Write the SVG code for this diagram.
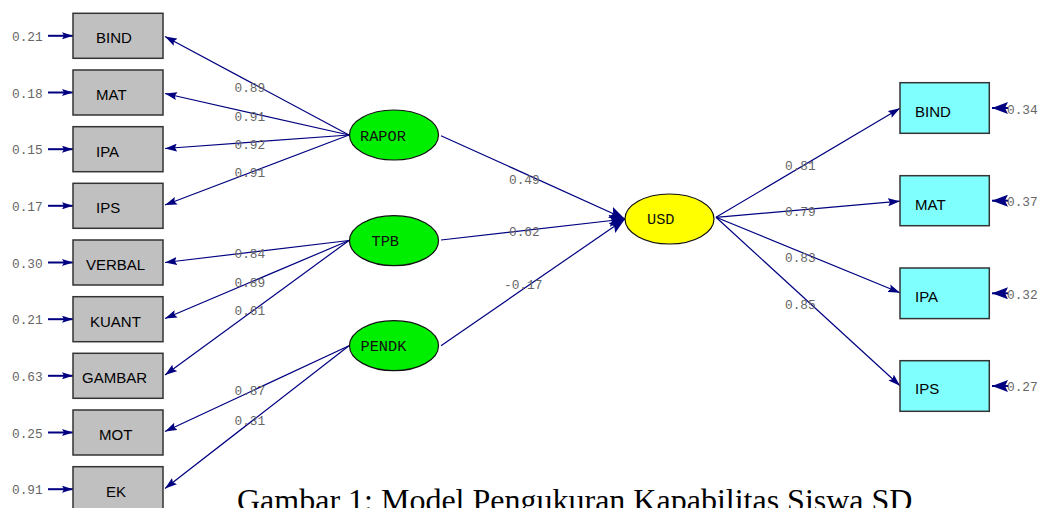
<svg xmlns="http://www.w3.org/2000/svg" width="1040" height="508" viewBox="0 0 1040 508">
<style>
.obs{fill:#c0c0c0;stroke:#333;stroke-width:1.5}
.obs2{fill:#80ffff;stroke:#333;stroke-width:1.5}
.lat{fill:#00ee00;stroke:#111;stroke-width:1.2}
.usd{fill:#ffff00;stroke:#111;stroke-width:1.2}
.bt{font-family:"Liberation Sans",Arial,sans-serif;font-size:15px;fill:#000}
.lt{font-family:"Liberation Mono","Courier New",monospace;font-size:15.3px;fill:#111}
.num{font-family:"Liberation Mono","Courier New",monospace;font-size:12.8px;fill:#666}
.ln{stroke:#000080;stroke-width:1.2;fill:none}
.err{stroke:#000080;stroke-width:2;fill:none}
.cap{font-family:"Liberation Serif","Times New Roman",serif;font-size:32px;fill:#000}
</style>
<defs>
<marker id="ah" viewBox="0 0 12 8" refX="12" refY="4" markerWidth="12" markerHeight="8" markerUnits="userSpaceOnUse" orient="auto">
<path d="M0,0 L12,4 L0,8 L2,4 z" fill="#000080"/>
</marker>
<marker id="ahb" viewBox="0 0 16 12" refX="16" refY="6" markerWidth="16" markerHeight="12" markerUnits="userSpaceOnUse" orient="auto">
<path d="M0,0 L16,6 L0,12 L3,6 z" fill="#000080"/>
</marker>
<marker id="ahs" viewBox="0 0 11 7" refX="11" refY="3.5" markerWidth="11" markerHeight="7" markerUnits="userSpaceOnUse" orient="auto">
<path d="M0,0 L11,3.5 L0,7 L2,3.5 z" fill="#000080"/>
</marker>
</defs>

<g id="connectors">
<line class="err" x1="48" y1="35.8" x2="73" y2="35.8" marker-end="url(#ahs)"/>
<line class="err" x1="48" y1="92.5" x2="73" y2="92.5" marker-end="url(#ahs)"/>
<line class="err" x1="48" y1="149.2" x2="73" y2="149.2" marker-end="url(#ahs)"/>
<line class="err" x1="48" y1="205.8" x2="73" y2="205.8" marker-end="url(#ahs)"/>
<line class="err" x1="48" y1="262.5" x2="73" y2="262.5" marker-end="url(#ahs)"/>
<line class="err" x1="48" y1="319.2" x2="73" y2="319.2" marker-end="url(#ahs)"/>
<line class="err" x1="48" y1="375.8" x2="73" y2="375.8" marker-end="url(#ahs)"/>
<line class="err" x1="48" y1="432.5" x2="73" y2="432.5" marker-end="url(#ahs)"/>
<line class="err" x1="48" y1="489.2" x2="73" y2="489.2" marker-end="url(#ahs)"/>
<line class="ln" x1="349" y1="135" x2="165" y2="36.5" marker-end="url(#ah)"/>
<line class="ln" x1="349" y1="135" x2="165" y2="93.5" marker-end="url(#ah)"/>
<line class="ln" x1="349" y1="135" x2="165" y2="148.5" marker-end="url(#ah)"/>
<line class="ln" x1="349" y1="135" x2="165" y2="205" marker-end="url(#ah)"/>
<line class="ln" x1="349" y1="240.5" x2="165" y2="262.5" marker-end="url(#ah)"/>
<line class="ln" x1="349" y1="240.5" x2="165" y2="318.5" marker-end="url(#ah)"/>
<line class="ln" x1="349" y1="240.5" x2="165" y2="375" marker-end="url(#ah)"/>
<line class="ln" x1="349" y1="345.7" x2="165" y2="431.5" marker-end="url(#ah)"/>
<line class="ln" x1="349" y1="345.7" x2="165" y2="488.5" marker-end="url(#ah)"/>
<line class="ln" x1="441" y1="135.7" x2="625" y2="219" marker-end="url(#ahb)"/>
<line class="ln" x1="441" y1="240" x2="625" y2="219" marker-end="url(#ahb)"/>
<line class="ln" x1="441" y1="345.7" x2="625" y2="219" marker-end="url(#ahb)"/>
<line class="ln" x1="716" y1="217.3" x2="900" y2="108.3" marker-end="url(#ah)"/>
<line class="ln" x1="716" y1="217.3" x2="900" y2="201.2" marker-end="url(#ah)"/>
<line class="ln" x1="716" y1="217.3" x2="900" y2="292.7" marker-end="url(#ah)"/>
<line class="ln" x1="716" y1="217.3" x2="900" y2="385.7" marker-end="url(#ah)"/>
<line class="err" x1="1008" y1="108" x2="992" y2="108" marker-end="url(#ahb)"/>
<line class="err" x1="1008" y1="200.7" x2="992" y2="200.7" marker-end="url(#ahb)"/>
<line class="err" x1="1008" y1="293.3" x2="992" y2="293.3" marker-end="url(#ahb)"/>
<line class="err" x1="1008" y1="386" x2="992" y2="386" marker-end="url(#ahb)"/>
</g>

<g id="connector-labels">
<text class="num" x="12" y="41">0.21</text>
<text class="num" x="12" y="97.7">0.18</text>
<text class="num" x="12" y="154.4">0.15</text>
<text class="num" x="12" y="211">0.17</text>
<text class="num" x="12" y="267.7">0.30</text>
<text class="num" x="12" y="324.4">0.21</text>
<text class="num" x="12" y="381">0.63</text>
<text class="num" x="12" y="437.7">0.25</text>
<text class="num" x="12" y="494.4">0.91</text>
<text class="num" x="234.5" y="92">0.89</text>
<text class="num" x="234.5" y="120.5">0.91</text>
<text class="num" x="234.5" y="148.7">0.92</text>
<text class="num" x="234.5" y="177">0.91</text>
<text class="num" x="234.5" y="257.7">0.84</text>
<text class="num" x="234.5" y="287">0.89</text>
<text class="num" x="234.5" y="315.3">0.61</text>
<text class="num" x="234.5" y="395.3">0.87</text>
<text class="num" x="234.5" y="424.6">0.31</text>
<text class="num" x="509" y="183.7">0.49</text>
<text class="num" x="509" y="236.3">0.62</text>
<text class="num" x="504" y="288.7">-0.17</text>
<text class="num" x="785" y="170.3">0.81</text>
<text class="num" x="785" y="216">0.79</text>
<text class="num" x="785" y="262">0.83</text>
<text class="num" x="785" y="308.7">0.85</text>
<text class="num" x="1007" y="113.5">0.34</text>
<text class="num" x="1007" y="206">0.37</text>
<text class="num" x="1007" y="298.6">0.32</text>
<text class="num" x="1007" y="391.3">0.27</text>
</g>

<g id="x-BIND"><rect class="obs" x="73" y="13.3" width="90" height="45"/><text class="bt" x="96" y="43.3">BIND</text></g>
<g id="x-MAT"><rect class="obs" x="73" y="70" width="90" height="45"/><text class="bt" x="96" y="100">MAT</text></g>
<g id="x-IPA"><rect class="obs" x="73" y="126.7" width="90" height="45"/><text class="bt" x="96" y="156.7">IPA</text></g>
<g id="x-IPS"><rect class="obs" x="73" y="183.3" width="90" height="45"/><text class="bt" x="96" y="213.3">IPS</text></g>
<g id="x-VERBAL"><rect class="obs" x="73" y="240" width="90" height="45"/><text class="bt" x="86" y="270">VERBAL</text></g>
<g id="x-KUANT"><rect class="obs" x="73" y="296.7" width="90" height="45"/><text class="bt" x="90" y="326.7">KUANT</text></g>
<g id="x-GAMBAR"><rect class="obs" x="73" y="353.3" width="90" height="45"/><text class="bt" x="82" y="383.3">GAMBAR</text></g>
<g id="x-MOT"><rect class="obs" x="73" y="410" width="90" height="45"/><text class="bt" x="99" y="440">MOT</text></g>
<g id="x-EK"><rect class="obs" x="73" y="466.7" width="90" height="45"/><text class="bt" x="106" y="496.7">EK</text></g>

<g id="RAPOR"><ellipse class="lat" cx="394" cy="135" rx="44.5" ry="25"/><text class="lt" x="360" y="140.7">RAPOR</text></g>
<g id="TPB"><ellipse class="lat" cx="394" cy="240.7" rx="44.5" ry="25"/><text class="lt" x="371.5" y="246">TPB</text></g>
<g id="PENDK"><ellipse class="lat" cx="394" cy="345.7" rx="44.5" ry="25"/><text class="lt" x="360.5" y="351">PENDK</text></g>
<g id="USD"><ellipse class="usd" cx="669.5" cy="219" rx="44.5" ry="25"/><text class="lt" x="647" y="224.3">USD</text></g>

<g id="y-BIND"><rect class="obs2" x="900" y="82.7" width="89.3" height="50.6"/><text class="bt" x="915" y="116.7">BIND</text></g>
<g id="y-MAT"><rect class="obs2" x="900" y="175.7" width="89.3" height="50"/><text class="bt" x="915" y="210">MAT</text></g>
<g id="y-IPA"><rect class="obs2" x="900" y="268" width="89.3" height="50.6"/><text class="bt" x="915" y="301.7">IPA</text></g>
<g id="y-IPS"><rect class="obs2" x="900" y="360.7" width="89.3" height="50.6"/><text class="bt" x="915" y="394.3">IPS</text></g>

<text class="cap" x="237" y="511">Gambar 1: Model Pengukuran Kapabilitas Siswa SD</text>
</svg>
